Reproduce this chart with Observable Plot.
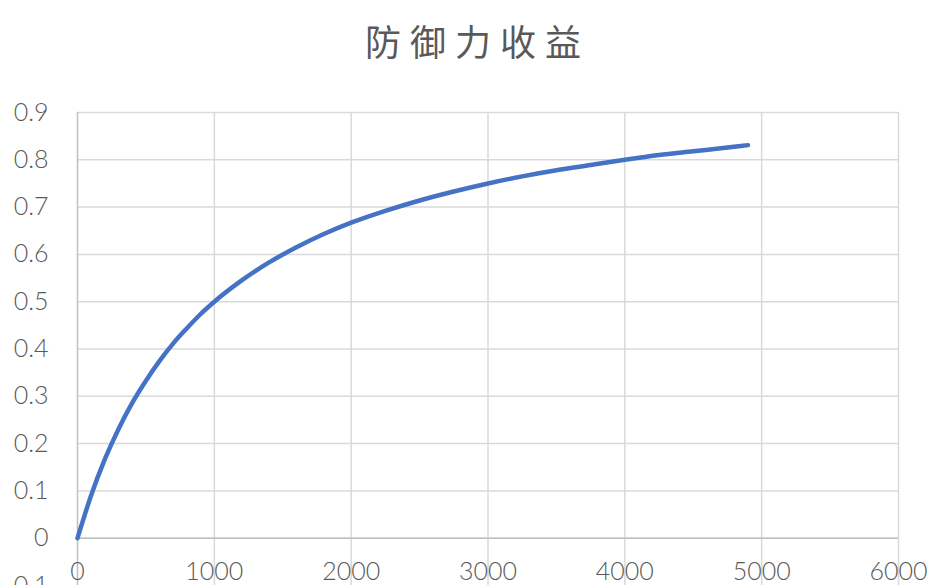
<!DOCTYPE html>
<html>
<head>
<meta charset="utf-8">
<script src="https://cdn.jsdelivr.net/npm/d3@7"></script>
<script src="https://cdn.jsdelivr.net/npm/@observablehq/plot@0.6"></script>
<style>
  html, body { margin: 0; padding: 0; background: #fff; overflow: hidden; }
  #title { height: 80px; line-height: 80px; text-align: center; font-family: "Noto Sans CJK SC", sans-serif; font-size: 36px; font-weight: 400; letter-spacing: 9px; color: #595959; padding-left: 18px; box-sizing: border-box; }
</style>
</head>
<body>
<div id="title">防御力收益</div>
<div id="chart"></div>
<script>
const defense = [0, 100, 200, 300, 400, 500, 600, 700, 800, 900, 1000, 1200, 1400, 1600, 1800, 2000, 2250, 2500, 2750, 3000, 3250, 3500, 3750, 4000, 4250, 4500, 4750, 4900];
const gain = [0, 0.091, 0.167, 0.231, 0.286, 0.333, 0.375, 0.412, 0.444, 0.474, 0.5, 0.545, 0.583, 0.615, 0.643, 0.667, 0.692, 0.714, 0.733, 0.75, 0.765, 0.778, 0.789, 0.8, 0.81, 0.818, 0.826, 0.831];
const xTicks = [0, 1000, 2000, 3000, 4000, 5000, 6000];
const yTicks = [-0.1, 0, 0.1, 0.2, 0.3, 0.4, 0.5, 0.6, 0.7, 0.8, 0.9];
const yGrid = [0, 0.1, 0.2, 0.3, 0.4, 0.5, 0.6, 0.7, 0.8, 0.9];

const data = defense.map((d, i) => ({x: d, y: gain[i]}));

const chart = Plot.plot({
  width: 937,
  height: 505,
  marginTop: 32,
  marginBottom: 0,
  marginLeft: 77,
  marginRight: 39,
  style: {fontFamily: "Lato, 'Open Sans', sans-serif", fontSize: "25px", color: "#595959", background: "#fff"},
  x: {domain: [0, 6000], axis: null},
  y: {domain: [-0.1, 0.9], axis: null},
  marks: [
    Plot.gridY(yGrid, {stroke: "#d9d9d9", strokeOpacity: 1, strokeWidth: 1.5, x1: 0, x2: 6000}),
    Plot.gridX(xTicks.slice(1), {stroke: "#d9d9d9", strokeOpacity: 1, strokeWidth: 1.5}),
    Plot.ruleX([0], {stroke: "#bfbfbf", strokeWidth: 1.5}),
    Plot.ruleY([0], {stroke: "#bfbfbf", strokeWidth: 1.5}),
    Plot.text(yTicks, {x: 0, y: d => d, text: d => d === 0 ? "0" : (d < 0 ? "-" : "") + Math.abs(d).toFixed(1), textAnchor: "end", dx: -29, fill: "#595959", fontSize: 25, fontWeight: 300, letterSpacing: "2.5px"}),
    Plot.text(xTicks, {x: d => d, y: 0, text: d => String(d), dy: 34, fill: "#595959", fontSize: 25, fontWeight: 300, letterSpacing: "1px"}),
    Plot.line(data, {x: "x", y: "y", stroke: "#4472C4", strokeWidth: 4.5, strokeLinecap: "round", strokeLinejoin: "round", curve: "monotone-x"})
  ]
});
document.getElementById("chart").appendChild(chart);
</script>
</body>
</html>
